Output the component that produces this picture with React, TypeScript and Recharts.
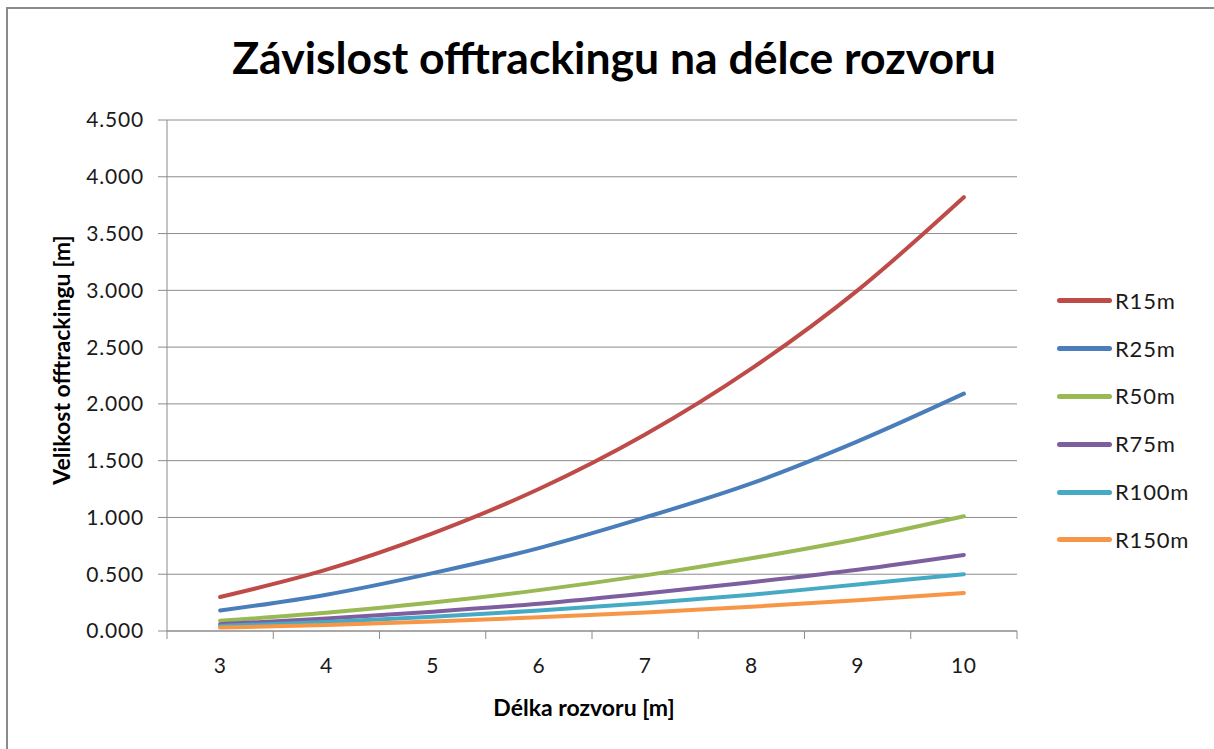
import React from 'react';
import { LineChart, Line, XAxis, YAxis, CartesianGrid } from 'recharts';

// délka rozvoru [m]
const lengths = [3, 4, 5, 6, 7, 8, 9, 10];

// offtracking [m] for each curve radius
const r15 = [0.30, 0.54, 0.86, 1.25, 1.73, 2.31, 3.0, 3.82];
const r25 = [0.18, 0.32, 0.51, 0.73, 1.0, 1.3, 1.67, 2.09];
const r50 = [0.09, 0.16, 0.25, 0.36, 0.49, 0.64, 0.81, 1.01];
const r75 = [0.06, 0.11, 0.17, 0.24, 0.33, 0.43, 0.54, 0.67];
const r100 = [0.045, 0.08, 0.125, 0.18, 0.245, 0.32, 0.41, 0.5];
const r150 = [0.03, 0.053, 0.083, 0.12, 0.163, 0.214, 0.27, 0.334];

const seriesNames = ['R15m', 'R25m', 'R50m', 'R75m', 'R100m', 'R150m'];
const seriesValues = [r15, r25, r50, r75, r100, r150];
const seriesColors = ['#BE4B48', '#4A7EBB', '#98B954', '#7D5FA0', '#46AAC5', '#F79646'];

const yTicks = [0, 0.5, 1, 1.5, 2, 2.5, 3, 3.5, 4, 4.5];
// category boundaries for the tick marks (Excel puts them between categories)
const xBoundaries = [2.5, 3.5, 4.5, 5.5, 6.5, 7.5, 8.5, 9.5, 10.5];

const FONT = 'Lato, "Open Sans", sans-serif';

const NoLabel = () => <g />;

export default function App() {
  const data = lengths.map((x, i) => {
    const row: Record<string, number> = { x };
    seriesNames.forEach((name, s) => {
      row[name] = seriesValues[s][i];
    });
    return row;
  });

  return (
    <div
      style={{
        position: 'relative',
        width: 1214,
        height: 749,
        background: '#fff',
        overflow: 'hidden',
        fontFamily: FONT,
      }}
    >
      <style>{`body { margin: 0; }`}</style>

      {/* frame */}
      <div
        style={{
          position: 'absolute',
          left: 6,
          top: 7,
          width: 1400,
          height: 900,
          borderTop: '2px solid #8a8a8a',
          borderLeft: '2px solid #8a8a8a',
        }}
      />

      {/* title */}
      <div
        style={{
          position: 'absolute',
          top: 30,
          left: 0,
          width: 1228,
          textAlign: 'center',
          fontSize: 44.5,
          fontWeight: 700,
          color: '#000',
        }}
      >
        Závislost offtrackingu na délce rozvoru
      </div>

      <LineChart
        width={1214}
        height={749}
        data={data}
        margin={{ top: 120, right: 197, left: 0, bottom: 57 }}
        style={{ position: 'absolute', left: 0, top: 0 }}
      >
        <CartesianGrid vertical={false} stroke="#8c8c8c" strokeWidth={1} />
        {/* axis line + tick marks between categories */}
        <XAxis
          type="number"
          dataKey="x"
          domain={[2.5, 10.5]}
          ticks={xBoundaries}
          tick={NoLabel}
          tickSize={8}
          height={1}
          stroke="#8c8c8c"
          allowDataOverflow
        />
        {/* category labels */}
        <XAxis
          xAxisId="labels"
          type="number"
          dataKey="x"
          domain={[2.5, 10.5]}
          ticks={lengths}
          axisLine={false}
          tickLine={false}
          tickMargin={20}
          height={60}
          tick={{ fill: '#1a1a1a', fontSize: 21, fontFamily: FONT, letterSpacing: 0.8 }}
        />
        <YAxis
          domain={[0, 4.5]}
          ticks={yTicks}
          width={167}
          tickSize={9}
          tickMargin={14}
          stroke="#8c8c8c"
          tickFormatter={(v: number) => v.toFixed(3)}
          tick={{ fill: '#1a1a1a', fontSize: 21, fontFamily: FONT, letterSpacing: 0.8 }}
        />
        {seriesNames.map((name, s) => (
          <Line
            key={name}
            type="monotone"
            dataKey={name}
            stroke={seriesColors[s]}
            strokeWidth={4}
            strokeLinecap="round"
            dot={false}
            activeDot={false}
            isAnimationActive={false}
          />
        ))}
      </LineChart>

      {/* y axis title */}
      <div
        style={{
          position: 'absolute',
          left: 61,
          top: 360,
          transform: 'translate(-50%, -50%) rotate(-90deg)',
          whiteSpace: 'nowrap',
          fontSize: 23,
          fontWeight: 700,
          color: '#000',
        }}
      >
        Velikost offtrackingu [m]
      </div>

      {/* x axis title */}
      <div
        style={{
          position: 'absolute',
          left: 584,
          top: 707,
          transform: 'translate(-50%, -50%)',
          whiteSpace: 'nowrap',
          fontSize: 23,
          fontWeight: 700,
          color: '#000',
        }}
      >
        Délka rozvoru [m]
      </div>

      {/* legend */}
      <div style={{ position: 'absolute', left: 1057, top: 277 }}>
        {seriesNames.map((name, s) => (
          <div key={name} style={{ display: 'flex', alignItems: 'center', height: 47.8 }}>
            <div
              style={{
                width: 55,
                height: 5,
                borderRadius: 3,
                background: seriesColors[s],
                marginRight: 3,
              }}
            />
            <span style={{ fontSize: 22, color: '#1a1a1a', lineHeight: '28px', letterSpacing: 0.8 }}>
              {name}
            </span>
          </div>
        ))}
      </div>
    </div>
  );
}
